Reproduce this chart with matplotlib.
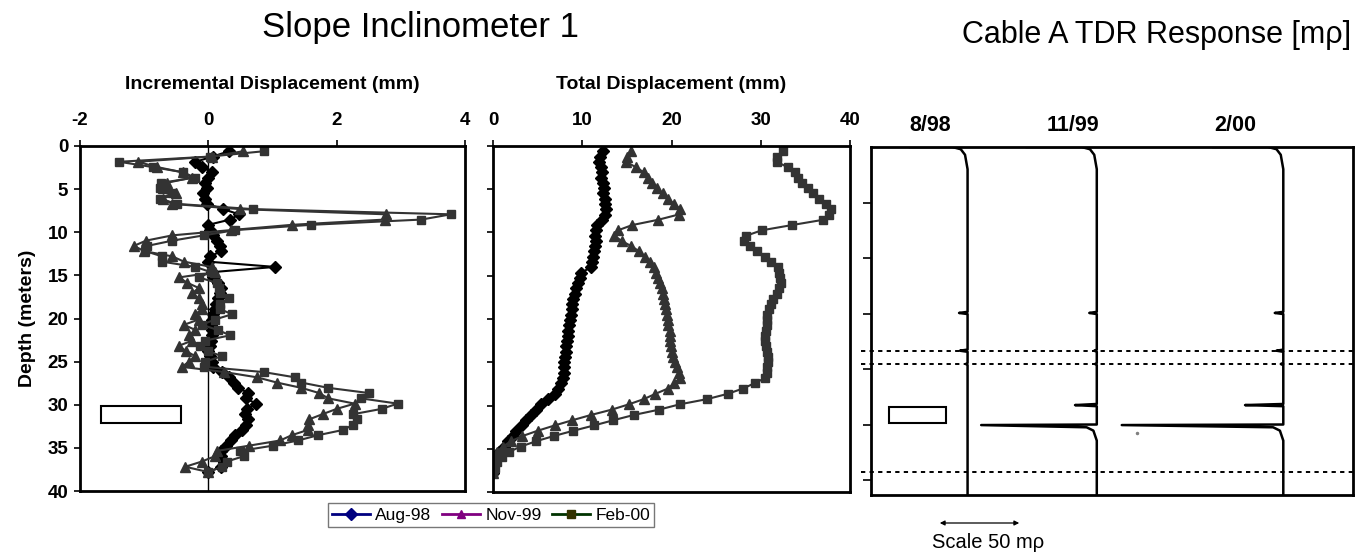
import numpy as np
import matplotlib
matplotlib.use("Agg")
import matplotlib.pyplot as plt
from matplotlib.patches import Rectangle, FancyArrowPatch
from matplotlib.lines import Line2D

plt.rcParams['font.family'] = ['Liberation Sans', 'DejaVu Sans']
plt.rcParams['axes.unicode_minus'] = False

# inclinometer readings, every 2 ft (0.61 m)
depth = [0.61, 1.22, 1.83, 2.44, 3.05, 3.66, 4.27, 4.88, 5.49, 6.10,
         6.71, 7.32, 7.92, 8.53, 9.14, 9.75, 10.36, 10.97, 11.58, 12.19,
         12.80, 13.41, 14.02, 14.63, 15.24, 15.85, 16.46, 17.07, 17.68, 18.29,
         18.90, 19.51, 20.12, 20.73, 21.34, 21.95, 22.56, 23.16, 23.77, 24.38,
         24.99, 25.60, 26.21, 26.82, 27.43, 28.04, 28.65, 29.26, 29.87, 30.48,
         31.09, 31.70, 32.31, 32.92, 33.53, 34.14, 34.75, 35.36, 35.97, 36.58,
         37.19, 37.80]

incr_aug98 = [0.32, 0.07, -0.20, -0.10, 0.06, 0.00, -0.05, -0.02, -0.08, -0.05,
              -0.02, 0.23, 0.48, 0.34, 0.00, 0.03, 0.08, 0.13, 0.18, 0.20,
              0.03, 0.00, 1.04, 0.05, 0.08, 0.15, 0.20, 0.18, 0.15, 0.12,
              0.10, 0.08, 0.05, 0.04, 0.05, 0.06, 0.04, 0.02, 0.00, 0.02,
              0.05, 0.08, 0.21, 0.32, 0.40, 0.47, 0.62, 0.58, 0.75, 0.60,
              0.57, 0.62, 0.58, 0.53, 0.42, 0.35, 0.27, 0.20, 0.20, 0.25,
              0.20, 0.00]
incr_nov99 = [0.54, 0.05, -1.10, -0.80, -0.40, -0.25, -0.65, -0.70, -0.50, -0.70,
              -0.57, 0.50, 2.77, 2.75, 1.30, 0.35, -0.56, -0.97, -1.16, -1.00,
              -0.56, -0.38, 0.05, 0.10, -0.46, -0.33, -0.15, -0.25, -0.15, -0.10,
              -0.10, -0.20, -0.15, -0.38, -0.20, -0.30, -0.25, -0.46, -0.35, -0.20,
              -0.30, -0.41, 0.25, 0.76, 1.07, 1.45, 1.73, 1.87, 2.28, 2.00,
              1.78, 1.57, 1.56, 1.55, 1.30, 1.12, 0.63, 0.13, 0.10, -0.10,
              -0.36, 0.00]
incr_feb00 = [0.86, 0.03, -1.39, -0.87, -0.39, -0.21, -0.73, -0.76, -0.56, -0.76,
              -0.49, 0.70, 3.78, 3.32, 1.60, 0.42, -0.07, -0.56, -0.95, -0.98,
              -0.72, -0.72, -0.20, 0.04, -0.15, 0.13, 0.16, 0.18, 0.32, 0.18,
              0.18, 0.37, 0.10, -0.10, 0.15, 0.34, -0.05, -0.13, 0.00, 0.21,
              -0.05, -0.06, 0.86, 1.35, 1.45, 1.87, 2.51, 2.38, 2.95, 2.70,
              2.26, 2.31, 2.26, 2.10, 1.71, 1.40, 1.00, 0.49, 0.55, 0.29,
              0.21, 0.00]

tot_aug98 = [12.3, 12.0, 11.9, 12.1, 12.2, 12.1, 12.3, 12.4, 12.3, 12.5,
             12.6, 12.7, 12.6, 12.2, 11.7, 11.5, 11.4, 11.5, 11.4, 11.3,
             11.2, 11.1, 11.0, 9.9, 9.7, 9.5, 9.3, 9.2, 9.0, 8.9,
             8.8, 8.7, 8.6, 8.5, 8.4, 8.4, 8.3, 8.2, 8.2, 8.1,
             8.0, 7.9, 7.9, 7.8, 7.6, 7.3, 6.9, 6.2, 5.4, 4.8,
             4.3, 3.7, 3.2, 2.6, 2.2, 1.7, 1.2, 0.7, 0.3, 0.1,
             0.0, 0.0]
tot_nov99 = [15.5, 15.0, 14.9, 16.0, 16.9, 17.4, 17.8, 18.4, 19.0, 19.6,
             20.3, 21.0, 20.8, 18.5, 15.6, 14.0, 13.6, 14.4, 15.5, 16.4,
             17.0, 17.6, 18.0, 18.3, 18.5, 18.7, 18.9, 19.0, 19.2, 19.3,
             19.4, 19.5, 19.6, 19.6, 19.8, 19.8, 19.8, 19.9, 20.0, 20.2,
             20.4, 20.6, 20.8, 21.0, 20.3, 19.6, 18.2, 16.9, 15.2, 13.3,
             11.0, 8.9, 6.9, 5.0, 3.3, 2.0, 1.1, 0.4, 0.1, 0.0,
             0.0, 0.0]
tot_feb00 = [32.5, 31.8, 31.8, 33.0, 33.8, 34.2, 34.6, 35.3, 35.9, 36.5,
             37.3, 37.9, 37.6, 37.0, 33.5, 30.1, 28.4, 28.1, 28.8, 29.6,
             30.5, 31.2, 31.9, 32.1, 32.2, 32.3, 32.1, 31.8, 31.4, 31.1,
             30.9, 30.7, 30.7, 30.7, 30.6, 30.5, 30.5, 30.6, 30.7, 30.8,
             30.8, 30.7, 30.7, 30.5, 29.3, 28.0, 26.3, 24.0, 20.9, 18.6,
             15.8, 13.5, 11.3, 9.0, 6.8, 4.8, 3.1, 1.8, 1.0, 0.5,
             0.2, 0.0]

series_names = ['Aug-98', 'Nov-99', 'Feb-00']

# TDR traces (x in m-rho, y in cable units from top of plot)
tdr_dates = ['8/98', '11/99', '2/00']
tdr_base = [56.8, 132.8, 242.5]
tdr_start = [23.0, 91.6, 201.4]
spike_depth = [2.99, 3.67, 3.91, 4.65, 5.01]
spike_amp = [[-5.0, -4.5, -1.0, 0.0, 0.0],
             [-4.4, -1.5, -1.0, -12.8, -68.0],
             [-5.0, -4.0, -1.5, -22.5, -95.0]]
tdr_len = 6.27
shear_lines = [3.68, 3.91, 5.86]


def tdr_trace(base, start, amps):
    xs = [start, base - 9, base - 4, base - 1.5, base]
    ys = [0.0, 0.0, 0.04, 0.14, 0.4]
    for d, a in zip(spike_depth, amps):
        if a == 0:
            continue
        if a < -50:
            # large reflection, trace recovers with a knee
            xs += [base, base + a, base - 6, base - 2, base]
            ys += [d - 0.01, d, d + 0.04, d + 0.1, d + 0.28]
        else:
            xs += [base, base + a, base]
            ys += [d - 0.02, d, d + 0.02]
    xs.append(base)
    ys.append(tdr_len)
    return xs, ys


W, H = 1359, 556
fig = plt.figure(figsize=(W / 100, H / 100), dpi=100)

def box(l, t, r, b):
    return [l / W, (H - b) / H, (r - l) / W, (b - t) / H]

ax1 = fig.add_axes(box(80, 146, 465, 491))
ax2 = fig.add_axes(box(493, 146, 850, 492))
ax3 = fig.add_axes(box(871, 147, 1353, 495))

lab_font = dict(fontsize=14, fontweight='bold')
dark = '#333333'

styles = [dict(marker='D', color='black', ms=6, lw=1.5),
          dict(marker='^', color=dark, ms=6.5, lw=1.5),
          dict(marker='s', color=dark, ms=6, lw=1.5)]

# incremental
ax1.axvline(0, color='black', lw=1)
for vals, st in zip([incr_aug98, incr_nov99, incr_feb00], styles):
    ax1.plot(vals, depth, **st)
ax1.add_patch(Rectangle((-1.68, 30.2), 1.26, 1.9, fill=False, ec='black', lw=1.5))
ax1.set_xlim(-2, 4)
ax1.set_ylim(40, 0)
ax1.set_xticks([-2, 0, 2, 4])
ax1.set_yticks(range(0, 41, 5))
ax1.xaxis.tick_top()
ax1.xaxis.set_label_position('top')
ax1.set_xlabel('Incremental Displacement (mm)', labelpad=16.5, **lab_font)
ax1.set_ylabel('Depth (meters)', labelpad=8, **lab_font)

# total
for vals, st in zip([tot_aug98, tot_nov99, tot_feb00], styles):
    ax2.plot(vals, depth, **st)
ax2.set_xlim(0, 40)
ax2.set_ylim(40, 0)
ax2.set_xticks([0, 10, 20, 30, 40])
ax2.set_yticks(range(0, 41, 5))
ax2.set_yticklabels([])
ax2.xaxis.tick_top()
ax2.xaxis.set_label_position('top')
ax2.set_xlabel('Total Displacement (mm)', labelpad=16.5, **lab_font)

for ax in (ax1, ax2):
    ax.tick_params(axis='x', direction='out', length=4.5, width=1.2, pad=8, labelsize=13.5)
    ax.tick_params(axis='y', direction='out', length=4.5, width=1.2, pad=4, labelsize=13.5)
    for lab in ax.get_xticklabels() + ax.get_yticklabels():
        lab.set_fontweight('bold')

# TDR
for base, start, amps in zip(tdr_base, tdr_start, spike_amp):
    xs, ys = tdr_trace(base, start, amps)
    ax3.plot(xs, ys, color='black', lw=1.8)
ax3.plot([156.3], [5.16], 'o', color='gray', ms=1.5)
for y in shear_lines:
    ax3.plot([-6, 283.5], [y, y], color='black', lw=1.4, ls=(0, (2.2, 2.2)), clip_on=False)
ax3.add_patch(Rectangle((10.6, 4.68), 33.5, 0.29, fill=False, ec='black', lw=1.5))
ax3.set_xlim(0, 283.5)
ax3.set_ylim(tdr_len, 0)
ax3.set_xticks([])
ax3.set_yticks(range(1, 7))
ax3.set_yticklabels([])
ax3.tick_params(axis='y', direction='out', length=5.5, width=1.2)
for x, lab in zip([0.122, 0.419, 0.755], tdr_dates):
    ax3.text(x, 1.063, lab, transform=ax3.transAxes, ha='center', va='center',
             fontsize=15.5, fontweight='bold')

for ax in (ax1, ax2, ax3):
    for sp in ax.spines.values():
        sp.set_linewidth(2)

fig.text(420 / W, 1 - 28 / H, 'Slope Inclinometer 1', fontsize=25, ha='center', va='center')
fig.text(1157 / W, 1 - 35 / H, 'Cable A TDR Response [m\u03c1]', fontsize=22, ha='center', va='center')

fig.add_artist(FancyArrowPatch(
    (937 / W, 1 - 523 / H), (1022 / W, 1 - 523 / H), transform=fig.transFigure,
    arrowstyle='<|-|>', mutation_scale=7, lw=0.9, color='black'))
fig.text(988 / W, 1 - 542 / H, 'Scale 50 m\u03c1', fontsize=14.5, ha='center', va='center')

handles = [Line2D([], [], color='#000080', marker='D', ms=6, lw=2),
           Line2D([], [], color='#800080', marker='^', ms=6, lw=2),
           Line2D([], [], color='#003300', marker='s', mfc='#333300', mec='#333300', ms=5.5, lw=2)]
leg = fig.legend(handles, series_names, loc='center', bbox_to_anchor=(491 / W, 1 - 515 / H),
                 ncol=3, fontsize=12.5, frameon=True, fancybox=False, handlelength=2.2,
                 handletextpad=0.3, columnspacing=0.6, borderpad=0.25, borderaxespad=0)
leg.get_frame().set_edgecolor('#555555')
leg.get_frame().set_linewidth(1)

fig.savefig('out.png', dpi=100)
